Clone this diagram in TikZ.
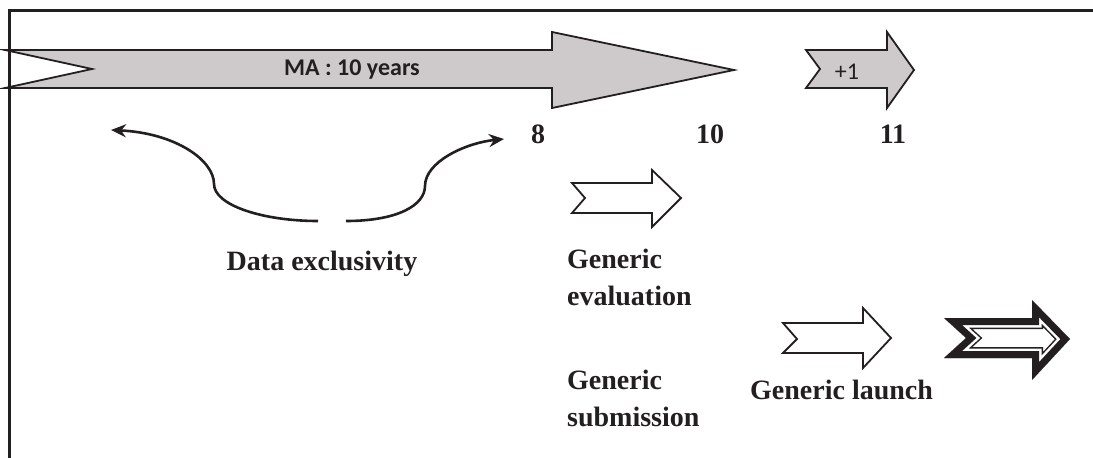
\documentclass[tikz,border=0pt]{standalone}
\usepackage{fontspec}
\setmainfont{Liberation Serif}
\newfontfamily\carlito{Carlito}
\usetikzlibrary{arrows.meta}
\definecolor{ink}{RGB}{35,31,32}
\definecolor{arrowgray}{RGB}{206,202,203}
\begin{document}
\begin{tikzpicture}[x=1pt,y=-1pt,line join=miter,
  outl/.style={draw=ink,line width=1.8pt},
  grayarrow/.style={outl,fill=arrowgray},
  openarrow/.style={outl,fill=white},
  lbl/.style={font=\fontsize{28}{37}\selectfont\bfseries,text=ink,inner sep=0pt},
  num/.style={lbl},
  curl/.style={draw=ink,line width=2.6pt,-{Stealth[length=15pt,width=13pt]}}]
\useasboundingbox (0,0) rectangle (1093,458);
% frame
\draw[ink,line width=3pt] (9,458) -- (9,10) -- (1093,10);
% MA arrow
\draw[grayarrow] (5,50) -- (552,50) -- (552,32) -- (734,70) -- (552,108) -- (552,88) -- (5,88) -- (92,69) -- cycle;
\node[font=\carlito\bfseries\fontsize{24}{28}\selectfont,text=ink,inner sep=0pt] (ma) at (352,70) {MA : 10 years};
% +1 arrow
\draw[grayarrow] (806,50) -- (887,50) -- (887,32) -- (914,70) -- (887,108) -- (887,88) -- (806,88) -- (820,69) -- cycle;
\node[font=\carlito\fontsize{24}{28}\selectfont,text=ink,inner sep=0pt] (plus) at (847,72) {+1};
% year numbers
\node[num] (y8) at (538,134) {8};
\node[num] (y10) at (710,134) {10};
\node[num] (y11) at (893,134) {11};
% data exclusivity curls
\coordinate (lstart) at (318,221);
\coordinate (lend) at (111,130);
\coordinate (rstart) at (346,221);
\coordinate (rend) at (504,139);
\draw[curl] (lstart) .. controls (262,221) and (214,205) .. (214,184) .. controls (214,160) and (175,133) .. (lend);
\draw[curl] (rstart) .. controls (398,221) and (425,205) .. (425,186) .. controls (425,162) and (465,143) .. (rend);
\node[lbl] (data) at (322,264) {Data exclusivity};
% generic evaluation
\draw[openarrow] (572,183) -- (652,183) -- (652,170) -- (681,198) -- (652,227) -- (652,213) -- (572,213) -- (585,198) -- cycle;
\node[lbl,anchor=north west,align=left] (eval) at (567,249) {Generic\\evaluation};
% generic launch arrow
\draw[openarrow] (783,323) -- (863,323) -- (863,308) -- (891,338) -- (863,368) -- (863,353) -- (783,353) -- (797,339) -- cycle;
\node[lbl,anchor=north west,align=left] (subm) at (567,370) {Generic\\submission};
\node[lbl,anchor=north west] (launch) at (750,380) {Generic launch};
% bold double arrow
\def\boldarrow{(944,318) -- (1032,318) -- (1032,300) -- (1070,339) -- (1032,380) -- (1032,358) -- (944,358) -- (966,338) -- cycle}
\begin{scope}
\clip \boldarrow;
\fill[white] \boldarrow;
\draw[ink,line width=22pt] \boldarrow;
\draw[white,line width=19pt] \boldarrow;
\draw[ink,line width=14pt] \boldarrow;
\end{scope}
\end{tikzpicture}
\end{document}
